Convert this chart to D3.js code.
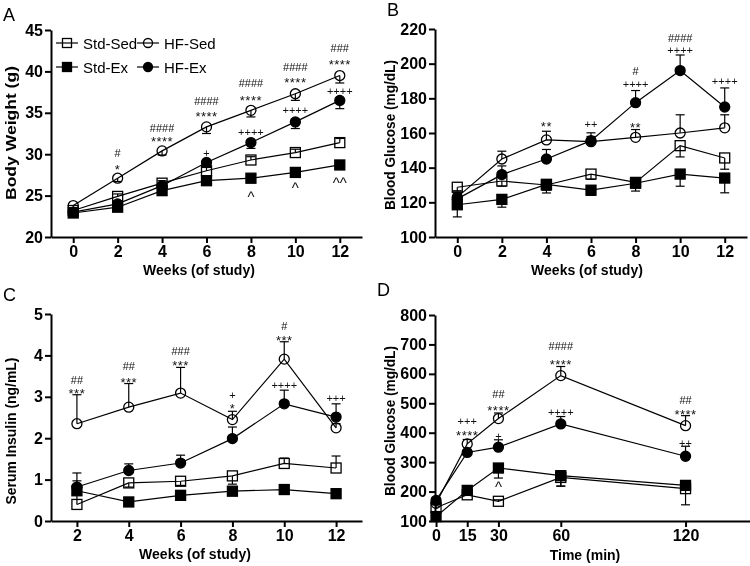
<!DOCTYPE html>
<html><head><meta charset="utf-8">
<script src="https://cdn.jsdelivr.net/npm/d3@7"></script>
<style>
body{margin:0;background:#fff}
svg{display:block;will-change:transform}
text{font-family:"Liberation Sans",Arial,Helvetica,sans-serif}
</style>
</head><body>
<svg id="chart" width="750" height="566"></svg>
<script>
// ---------- DATA ----------
const seriesNames = ["Std-Sed","Std-Ex","HF-Sed","HF-Ex"];

// Panel A: Body weight (g)
const weeksA = [0,2,4,6,8,10,12];
const bwStdSed = [23.2,24.9,26.5,28.0,29.3,30.2,31.4];
const bwStdEx  = [22.9,23.6,25.6,26.8,27.1,27.8,28.7];
const bwHFSed  = [23.8,27.1,30.4,33.3,35.3,37.3,39.5];
const bwHFEx   = [23.0,24.0,26.2,29.0,31.4,33.9,36.5];
const bwStdSedErr = [0.3,0.3,0.3,0.4,0.4,0.4,0.5];
const bwStdExErr  = [0.2,0.2,0.2,0.3,0.3,0.3,0.3];
const bwHFSedErr  = [-0.3,-0.4,-0.5,-0.8,-0.8,-0.8,-0.9];
const bwHFExErr   = [-0.3,-0.3,-0.4,-0.5,-0.7,-0.8,-1.0];
const bwTicks = [20,25,30,35,40,45];
const bwNotes = [
  {x:2,y:30.1,t:"#"},{x:2,y:28.6,t:"*"},
  {x:4,y:33.2,t:"####"},{x:4,y:32.0,t:"****"},
  {x:6,y:36.4,t:"####"},{x:6,y:35.0,t:"****"},{x:6,y:30.1,t:"+"},
  {x:8,y:38.6,t:"####"},{x:8,y:37.0,t:"****"},{x:8,y:32.7,t:"++++"},{x:8,y:25.3,t:"^"},
  {x:10,y:40.5,t:"####"},{x:10,y:39.1,t:"****"},{x:10,y:35.3,t:"++++"},{x:10,y:26.3,t:"^"},
  {x:12,y:42.8,t:"###"},{x:12,y:41.3,t:"****"},{x:12,y:37.6,t:"++++"},{x:12,y:26.9,t:"^^"}
];

// Panel B: Blood glucose (mg/dL) over weeks
const weeksB = [0,2,4,6,8,10,12];
const bgStdSed = [128.7,132.3,130.0,136.3,131.5,152.7,145.6];
const bgStdEx  = [118.6,121.7,130.4,127.0,131.0,136.3,134.0];
const bgHFSed  = [123.0,145.0,156.0,155.0,157.5,160.0,163.0];
const bgHFEx   = [122.0,136.0,145.0,155.6,177.5,196.0,175.0];
const bgStdSedErr = [-2,-3,-3,-3,-2,-6.5,-6.5];
const bgStdExErr  = [-7,-4.5,-5,-3,-4.5,-7,-8.5];
const bgHFSedErr  = [3,4.5,5,3,4.5,10.5,7.5];
const bgHFExErr   = [3,5,5.5,4.5,7,9,11];
const bgTicks = [100,120,140,160,180,200,220];
const bgNotes = [
  {x:4,y:166,t:"**"},{x:6,y:165.2,t:"++"},
  {x:8,y:195.5,t:"#"},{x:8,y:188,t:"++++"},{x:8,y:165.2,t:"**"},
  {x:10,y:214.8,t:"####"},{x:10,y:207.6,t:"++++"},
  {x:12,y:190,t:"++++"}
];

// Panel C: Serum insulin (ng/mL)
const weeksC = [2,4,6,8,10,12];
const inStdSed = [0.40,0.92,0.96,1.09,1.39,1.28];
const inStdEx  = [0.73,0.46,0.62,0.72,0.76,0.66];
const inHFSed  = [2.35,2.75,3.09,2.45,3.91,2.25];
const inHFEx   = [0.82,1.22,1.40,1.99,2.83,2.51];
const inStdSedErr = [0.57,-0.1,-0.1,-0.2,0.13,0.29];
const inStdExErr  = [-0.05,-0.05,0.1,-0.05,-0.05,-0.05];
const inHFSedErr  = [0.70,0.57,0.62,0.20,0.42,0.1];
const inHFExErr   = [0.34,0.16,0.19,0.28,0.33,0.32];
const inTicks = [0,1,2,3,4,5];
const inNotes = [
  {x:2,y:3.41,t:"##"},{x:2,y:3.17,t:"***"},
  {x:4,y:3.74,t:"##"},{x:4,y:3.45,t:"***"},
  {x:6,y:4.11,t:"###"},{x:6,y:3.86,t:"***"},
  {x:8,y:3.04,t:"+"},{x:8,y:2.81,t:"*"},
  {x:10,y:4.72,t:"#"},{x:10,y:4.46,t:"***"},{x:10,y:3.29,t:"++++"},
  {x:12,y:2.97,t:"+++"}
];

// Panel D: Glucose tolerance (mg/dL) over minutes
const minutesD = [0,15,30,60,120];
const gtStdSed = [145,189,167,248,210];
const gtStdEx  = [115,204,280,254,221];
const gtHFSed  = [160,362,448,594,424];
const gtHFEx   = [170,333,351,430,320];
const gtStdSedErr = [10,5,5,-30,-55];
const gtStdExErr  = [-10,-5,-34,-35,-10];
const gtHFSedErr  = [10,15,19,31,34];
const gtHFExErr   = [10,8,25,25,34];
const gtTicks = [100,200,300,400,500,600,700,800];
const gtNotes = [
  {x:15,y:441,t:"+++"},{x:15,y:405,t:"****"},
  {x:30,y:532,t:"##"},{x:30,y:490,t:"****"},{x:30,y:390,t:"+"},{x:30,y:226,t:"^"},
  {x:60,y:694,t:"####"},{x:60,y:645,t:"****"},{x:60,y:469,t:"++++"},
  {x:120,y:512,t:"##"},{x:120,y:475,t:"****"},{x:120,y:365,t:"++"}
];

// ---------- DRAW ----------
const svg = d3.select("#chart");
const markerType = {"Std-Sed":"sqOpen","Std-Ex":"sqFill","HF-Sed":"ciOpen","HF-Ex":"ciFill"};

function drawMarker(g, type, cx, cy, s){
  if(type.startsWith("sq")){
    g.append("rect").attr("x",cx-s/2).attr("y",cy-s/2).attr("width",s).attr("height",s)
      .attr("fill", type==="sqFill"?"#000":"none").attr("stroke","#000").attr("stroke-width",1.3);
  } else {
    g.append("circle").attr("cx",cx).attr("cy",cy).attr("r",s/2)
      .attr("fill", type==="ciFill"?"#000":"none").attr("stroke","#000").attr("stroke-width",1.3);
  }
}

function panel(cfg){
  const g = svg.append("g");
  const x = d3.scaleLinear().domain(cfg.xDomain).range([cfg.left,cfg.right]);
  const y = d3.scaleLinear().domain(cfg.yDomain).range([cfg.bottom,cfg.top]);
  const series = seriesNames.map((n,i)=>({name:n, vals:cfg.vals[i], err:cfg.errs[i]}));
  const line = d3.line().x((d,i)=>x(cfg.xs[i])).y(d=>y(d));
  series.forEach(s=>{
    g.append("path").attr("d",line(s.vals)).attr("fill","none").attr("stroke","#000").attr("stroke-width",1.2);
  });
  series.forEach(s=>{
    s.vals.forEach((v,i)=>{
      const e = s.err[i];
      const x0 = x(cfg.xs[i]), y0 = y(v), y1 = y(v+e);
      g.append("line").attr("x1",x0).attr("x2",x0).attr("y1",y0).attr("y2",y1).attr("stroke","#000").attr("stroke-width",1.2);
      g.append("line").attr("x1",x0-4.5).attr("x2",x0+4.5).attr("y1",y1).attr("y2",y1).attr("stroke","#000").attr("stroke-width",1.2);
    });
  });
  series.forEach(s=>{
    s.vals.forEach((v,i)=>drawMarker(g, markerType[s.name], x(cfg.xs[i]), y(v), 10));
  });
  cfg.notes.forEach(n=>{
    const star = n.t.indexOf("*")>=0;
    const caret = n.t.indexOf("^")>=0;
    g.append("text").attr("x",x(n.x)).attr("y",y(n.y)+(star?4:(caret?3:0)))
      .attr("text-anchor","middle").attr("dominant-baseline","central")
      .attr("font-size",star?13:(caret?15:11)).attr("letter-spacing",star?"0.5px":"0px")
      .attr("fill","#111").text(n.t);
  });
  const fmt = d3.format("d");
  const xa = g.append("g").attr("transform",`translate(0,${cfg.bottom})`)
    .call(d3.axisBottom(x).tickValues(cfg.xTicks).tickFormat(fmt).tickSize(6).tickSizeOuter(0).tickPadding(3));
  const ya = g.append("g").attr("transform",`translate(${cfg.left},0)`)
    .call(d3.axisLeft(y).tickValues(cfg.yTicks).tickFormat(fmt).tickSize(6).tickSizeOuter(0).tickPadding(2));
  [xa,ya].forEach(a=>{
    a.select(".domain").attr("stroke-width",2).attr("stroke","#000");
    a.selectAll(".tick line").attr("stroke-width",2).attr("stroke","#000");
    a.selectAll(".tick text").attr("font-size",16).attr("font-weight","bold").attr("fill","#000")
      .style("font-family",'"Liberation Sans",Arial,sans-serif');
  });
  g.append("text").attr("x",cfg.xTitlePos[0]).attr("y",cfg.xTitlePos[1]).attr("text-anchor","middle")
    .attr("font-size",14).attr("font-weight","bold").text(cfg.xTitle);
  g.append("text").attr("transform",`translate(${cfg.yTitlePos[0]},${cfg.yTitlePos[1]}) rotate(-90)`)
    .attr("text-anchor","middle").attr("font-size",14).attr("font-weight","bold")
    .attr("textLength",cfg.yTitleLen).attr("lengthAdjust","spacingAndGlyphs").text(cfg.yTitle);
  g.append("text").attr("x",cfg.letterPos[0]).attr("y",cfg.letterPos[1]).attr("font-size",18).text(cfg.letter);
  return g;
}

panel({letter:"A", letterPos:[3,21], left:51,right:362,top:30,bottom:237,
  xDomain:[-1,13], yDomain:[20,45], xs:weeksA, xTicks:weeksA, yTicks:bwTicks,
  vals:[bwStdSed,bwStdEx,bwHFSed,bwHFEx], errs:[bwStdSedErr,bwStdExErr,bwHFSedErr,bwHFExErr],
  notes:bwNotes, xTitle:"Weeks (of study)", xTitlePos:[199,275],
  yTitle:"Body Weight (g)", yTitlePos:[16,133], yTitleLen:134});

panel({letter:"B", letterPos:[387,16], left:435,right:747,top:29,bottom:237,
  xDomain:[-1,13], yDomain:[100,220], xs:weeksB, xTicks:weeksB, yTicks:bgTicks,
  vals:[bgStdSed,bgStdEx,bgHFSed,bgHFEx], errs:[bgStdSedErr,bgStdExErr,bgHFSedErr,bgHFExErr],
  notes:bgNotes, xTitle:"Weeks (of study)", xTitlePos:[587,275],
  yTitle:"Blood Glucose (mg/dL)", yTitlePos:[395,135], yTitleLen:150});

panel({letter:"C", letterPos:[3,301], left:51,right:362,top:314,bottom:521,
  xDomain:[1,13], yDomain:[0,5], xs:weeksC, xTicks:weeksC, yTicks:inTicks,
  vals:[inStdSed,inStdEx,inHFSed,inHFEx], errs:[inStdSedErr,inStdExErr,inHFSedErr,inHFExErr],
  notes:inNotes, xTitle:"Weeks (of study)", xTitlePos:[195,559],
  yTitle:"Serum Insulin (ng/mL)", yTitlePos:[16,431], yTitleLen:147});

panel({letter:"D", letterPos:[377,296], left:435,right:750,top:315,bottom:521,
  xDomain:[-0.5,151], yDomain:[100,800], xs:minutesD, xTicks:minutesD, yTicks:gtTicks,
  vals:[gtStdSed,gtStdEx,gtHFSed,gtHFEx], errs:[gtStdSedErr,gtStdExErr,gtHFSedErr,gtHFExErr],
  notes:gtNotes, xTitle:"Time (min)", xTitlePos:[585,560],
  yTitle:"Blood Glucose (mg/dL)", yTitlePos:[395,421], yTitleLen:150});

// Legend (panel A)
const legend = svg.append("g");
const legRows = [
  {name:"Std-Sed", lx:56, ly:43}, {name:"HF-Sed", lx:137, ly:43},
  {name:"Std-Ex", lx:56, ly:67}, {name:"HF-Ex", lx:137, ly:67}
];
legRows.forEach(r=>{
  legend.append("line").attr("x1",r.lx).attr("x2",r.lx+22).attr("y1",r.ly).attr("y2",r.ly).attr("stroke","#000").attr("stroke-width",1.2);
  drawMarker(legend, markerType[r.name], r.lx+11, r.ly, 9);
  legend.append("text").attr("x",r.lx+27).attr("y",r.ly).attr("dominant-baseline","central")
    .attr("font-size",15).text(r.name);
});
</script>
</body></html>
